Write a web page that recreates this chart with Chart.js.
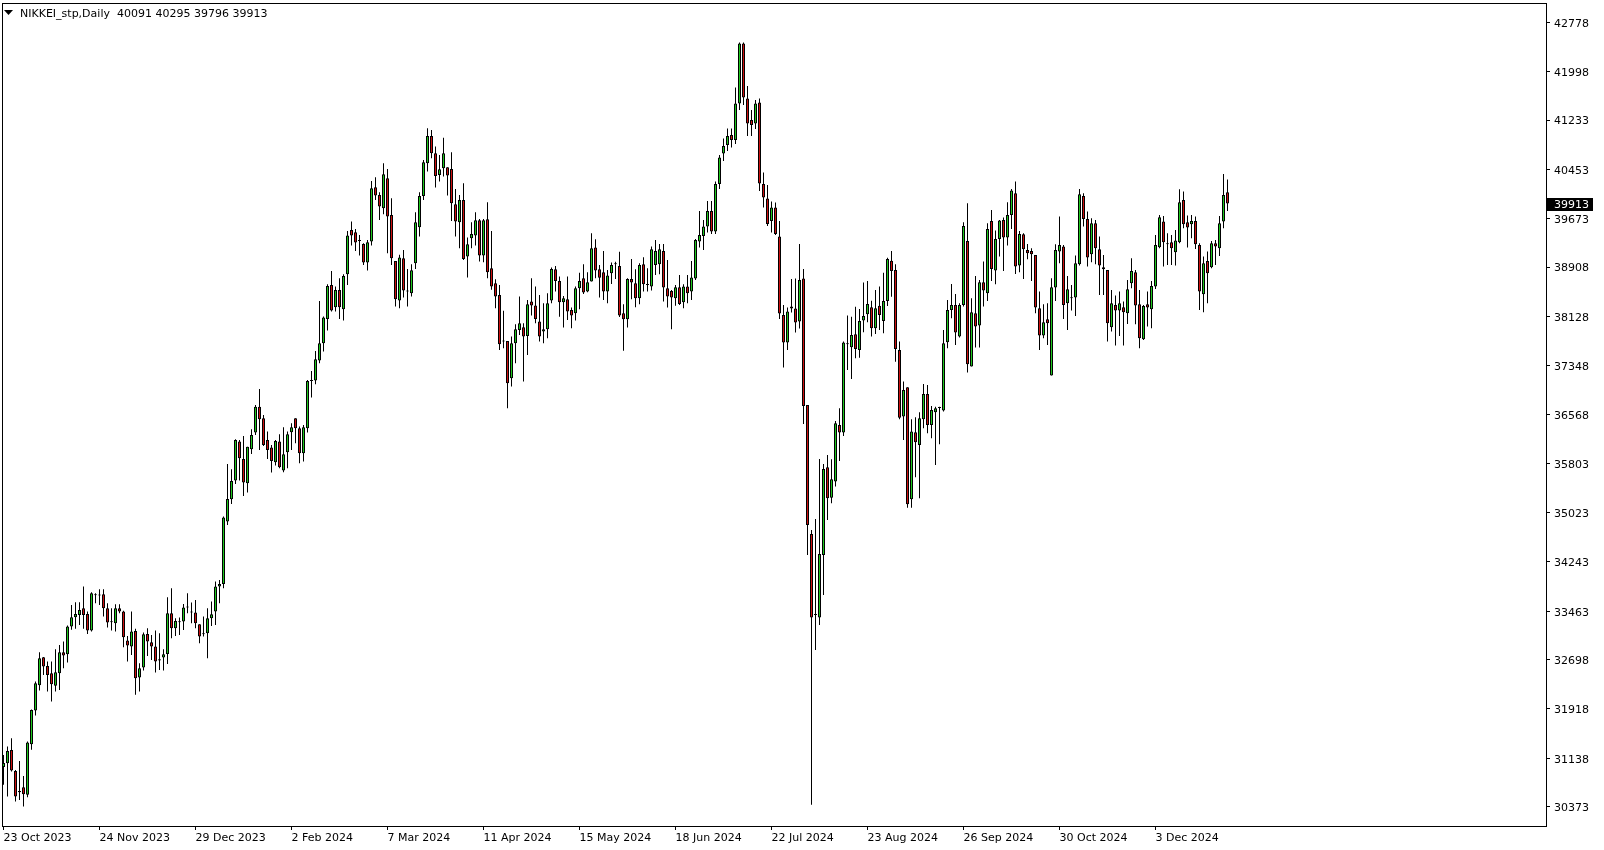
<!DOCTYPE html>
<html><head><meta charset="utf-8">
<script src="https://cdn.jsdelivr.net/npm/chart.js@4.4.1/dist/chart.umd.min.js"></script>
<style>html,body{margin:0;padding:0;background:#fff;overflow:hidden}</style>
</head><body><canvas id="c" width="1604" height="850"></canvas>
<script>
const symbolTitle = "NIKKEI_stp,Daily";
const opens = [31000,31058,31269,30937,30600,30679,30558,31359,31892,32292,32735,32598,32482,32282,32482,32814,32783,33220,33368,33405,33510,33421,33157,33716,33727,33732,33510,33290,33273,33510,33458,33000,32904,33152,32414,32572,33104,32972,32904,32703,32730,32788,33431,33194,33290,33299,33521,33442,33442,33257,33099,33115,33352,33457,33853,33895,34881,35234,35530,36147,35872,35487,36025,36289,36700,36516,36173,36052,35820,36147,35689,35979,36295,36516,36358,35963,36358,37107,37112,37429,37703,38088,38626,38273,38547,38241,38794,39496,39459,39322,39274,38979,39311,40171,40049,39839,40313,39733,39005,38378,39048,38521,38494,38969,39538,40034,40550,40983,40709,40366,40471,40487,40461,39902,39617,39971,39074,39364,39406,39649,39090,39665,38889,38652,38468,37729,37740,37149,37702,37913,37956,37819,38362,38299,38046,37887,37924,38378,38873,38689,38351,38399,38230,38177,38573,38731,38520,38678,39216,38873,38826,38520,38810,38952,38926,38177,38082,38720,38652,38414,38952,38625,38599,38942,38952,39163,38573,38530,38414,38588,38351,38599,38522,38728,39313,39400,39550,39795,39471,40223,40705,40840,40998,40919,41496,42445,41575,41235,41180,41512,40223,39993,39637,39851,39392,38150,37715,38253,38253,38048,38728,36727,34686,33404,33365,34353,35741,35260,35514,36410,36289,37687,37639,37845,37597,38061,38161,38272,37940,38298,38055,38372,39010,38862,37597,36542,37006,35234,36294,36094,36500,36901,36410,36611,36679,36637,37718,38230,38309,37808,38309,39322,37334,38177,37982,38668,38494,39638,38852,39353,39654,39374,39733,40076,38932,39427,39179,39164,39100,38257,37824,38083,37192,38583,39153,39232,38336,38415,38426,38953,40034,39670,39111,39601,39190,38905,38863,37956,38309,38220,38272,38177,38652,38826,38320,37766,38320,38240,38599,39221,39628,39269,39301,39142,39301,39970,39617,39585,39638,39258,38478,39005,38905,39285,39206,39628,40091];
const highs = [31190,31322,31454,30950,31095,30858,31401,31910,32350,32814,32740,32667,32667,32862,32930,32983,33236,33563,33605,33605,33853,33458,33764,33748,33811,33811,33590,33510,33574,33574,33470,33073,33458,33184,32640,33126,33193,33088,33157,33115,32862,33684,33827,33352,33363,33579,33747,33600,33642,33257,33378,33510,33616,33932,33958,34960,35793,35709,36184,36173,36236,36067,36342,36727,36980,36568,36305,36094,36173,36263,36374,36305,36437,36516,36384,36411,37123,37265,37582,38373,38125,38636,38847,38599,38731,38794,39480,39628,39512,39417,39285,39338,40271,40329,40092,40550,40461,39997,39005,39101,39179,38879,38953,39775,40092,40603,41104,41078,40814,40682,40956,40487,40724,40144,40049,40234,39375,39617,39775,39670,39670,39934,39480,38715,38626,38215,37740,37808,38004,38441,38019,38389,38731,38600,38468,38336,38494,38900,38926,38757,38451,38757,38267,38599,38820,38952,38826,39442,39348,38942,39163,38862,38979,38994,39152,38320,38731,39037,38873,38968,39063,38889,39232,39337,39274,39274,39021,38546,38625,38783,38636,38783,39005,39353,39795,39653,39954,39954,40262,40681,40942,41101,41101,41749,42461,42461,41773,41393,41551,41575,40405,40207,39946,39930,39637,38309,38269,38720,38728,39274,38878,36727,34749,34923,35872,35793,35936,35867,36474,36674,37729,38140,38124,38282,38245,38662,38688,38377,38546,38599,38820,39057,39163,38952,37729,37096,37006,36500,36532,36611,37059,37043,36711,36700,36700,37913,38388,38641,38482,38335,39617,39918,38415,38768,38705,38995,39601,39812,39485,39654,39691,39934,40144,40260,39480,39443,39274,39206,39100,38520,38320,38336,38731,39269,39707,39259,38768,38626,39090,40144,40076,39786,39680,39654,39390,39100,38863,38546,38457,38520,38362,38705,39047,38863,38546,38309,38520,38689,39417,39733,39717,39443,39417,39496,40139,40102,39723,39733,39707,39285,39074,39153,39322,39338,39717,40382,40295];
const lows = [30716,30531,30927,30452,30478,30373,30520,31270,31812,32208,32456,32192,32034,32192,32218,32562,32651,33168,33184,33247,33184,33104,33141,33590,33563,33379,33205,33157,33141,33431,32893,32667,32772,32140,32192,32524,32756,32693,32492,32535,32524,32629,33035,33073,33088,33167,33431,33273,33194,32956,33062,32719,33230,33247,33589,33827,34828,35160,35477,35530,35287,35340,35951,36252,36015,36078,35872,35656,35767,35726,35662,35726,36015,36121,35805,35831,36290,36843,37054,37386,37571,37903,38204,38204,38088,38062,38626,39248,39164,39090,38942,38853,39248,39970,39654,39744,39127,38942,38283,38257,38426,38283,38441,38879,39390,39970,40419,40630,40165,40260,40340,40039,39638,39390,39206,39021,38742,39206,39248,38995,38984,38731,38550,38257,37597,37624,36675,37018,37386,37835,37097,37518,38141,38019,37729,37703,37782,38336,38520,38124,37950,38072,37940,38061,38240,38483,38510,38678,38731,38425,38388,38335,38641,38720,38120,37586,37950,38398,38272,38320,38520,38520,38536,38783,38794,38362,38267,37924,38298,38309,38256,38335,38388,38704,39218,39179,39455,39432,39432,40144,40586,40745,40800,40855,41393,41472,40982,40982,41093,40112,39851,39558,39455,39416,38087,37320,37596,38190,37873,37937,36426,34353,30400,32851,33246,33721,34907,35171,35435,35841,36236,37280,37138,37465,37475,37876,38034,37808,37850,37913,37860,38293,38440,37412,36500,36173,35102,35102,35582,35250,36357,36278,36199,35777,36104,36621,37623,38097,37676,37792,38283,37239,37334,37634,37634,38283,38373,38689,38636,39074,38847,39248,39512,38800,38826,38721,39032,38689,38177,37597,37782,37676,37192,38373,38968,38088,37913,38220,38135,38932,39549,38916,38984,38953,38467,38467,37729,37887,37666,37819,37666,38009,38573,38003,37624,37755,37966,37940,38562,39206,38916,38942,38942,38931,39285,39522,39216,39364,39195,38230,38193,38336,38889,38942,39084,39522,39796];
const closes = [31060,31253,30942,30531,30620,30568,31385,31902,32324,32719,32588,32456,32308,32498,32814,32761,33220,33368,33421,33484,33405,33157,33748,33732,33711,33510,33284,33290,33510,33458,33052,32920,33141,32403,32561,33099,32983,32904,32666,32682,32783,33431,33194,33310,33290,33521,33521,33442,33273,33062,33099,33352,33415,33853,33895,34944,35240,35524,36173,35883,35498,36067,36252,36700,36500,36094,36015,35841,36157,35741,35947,36263,36374,36358,35963,36374,37107,37107,37450,37703,38109,38610,38220,38547,38273,38768,39406,39406,39295,39322,38979,39301,40155,40039,39865,40376,39707,39048,38399,39058,38536,38521,38858,39617,40034,40566,40983,40709,40350,40456,40709,40355,39918,39628,39971,39037,39269,39432,39649,39090,39649,38826,38599,38441,37687,37729,37070,37702,37924,38019,37808,38320,38299,38088,37808,37924,38336,38879,38689,38351,38414,38204,38140,38573,38689,38504,38667,39205,38852,38741,38520,38773,38942,38952,38140,38082,38720,38662,38414,38942,38636,38625,39190,39163,39190,38583,38441,38425,38588,38325,38599,38494,38744,39337,39416,39550,39795,39471,40223,40642,40824,40982,40919,41496,42445,41591,41180,41156,41496,40231,40009,39590,39851,39432,38174,37715,38206,38285,38032,38704,36711,34828,33365,33420,34369,35714,35250,35551,36437,36289,37713,37703,37834,37613,38055,38135,38324,37940,38256,38150,38372,39036,38846,37613,36526,36964,35155,36305,36136,36516,36901,36410,36648,36674,36679,37702,38230,38309,37871,38309,39559,37371,38193,37966,38668,38536,39512,38879,39353,39643,39374,39733,40118,38916,39433,39190,39127,39111,38267,37824,38035,38019,38589,39180,39259,38309,38557,38415,38969,40060,39670,39058,39601,39206,38931,38873,38019,38335,38220,38335,38193,38557,38847,38299,37782,38293,38267,38610,39259,39696,39301,39269,39206,39327,39934,39585,39533,39638,39269,38520,38968,38810,39285,39232,39601,40049,39913];
const xTickIndex = [0,24,48,72,96,120,144,168,192,216,240,264,288];
const xTickLabels = ["23 Oct 2023","24 Nov 2023","29 Dec 2023","2 Feb 2024","7 Mar 2024","11 Apr 2024","15 May 2024","18 Jun 2024","22 Jul 2024","23 Aug 2024","26 Sep 2024","30 Oct 2024","3 Dec 2024"];
const yTickValues = [42778,41998,41233,40453,39673,38908,38128,37348,36568,35803,35023,34243,33463,32698,31918,31138,30373];

const FONT = {family: "'DejaVu Sans', sans-serif", size: 11};
const UP = '#1ec81e', DOWN = '#cc1010';
const last = closes.length - 1;

const framePlugin = {
  id: 'frame',
  afterDatasetsDraw(chart) {
    const a = chart.chartArea, ctx = chart.ctx;
    ctx.save();
    ctx.strokeStyle = '#000'; ctx.lineWidth = 1;
    ctx.strokeRect(a.left + 0.5, a.top + 0.5, a.right - a.left, a.bottom - a.top);
    ctx.restore();
  },
  afterDraw(chart) {
    const ctx = chart.ctx;
    ctx.save();
    ctx.fillStyle = '#000';
    ctx.beginPath(); ctx.moveTo(4, 10); ctx.lineTo(13, 10); ctx.lineTo(8.5, 15); ctx.closePath(); ctx.fill();
    ctx.font = "11px 'DejaVu Sans'";
    ctx.textBaseline = 'alphabetic';
    ctx.fillText(symbolTitle + '  ' + [opens[last], highs[last], lows[last], closes[last]].join(' '), 20, 17);
    const y = chart.scales.y.getPixelForValue(closes[last]);
    const a = chart.chartArea;
    ctx.fillRect(a.right + 1, Math.round(y) - 6, 46, 13);
    ctx.fillStyle = '#fff';
    ctx.textBaseline = 'middle';
    ctx.fillText(String(closes[last]), a.right + 8, Math.round(y) + 1.5);
    ctx.restore();
  }
};

new Chart(document.getElementById('c'), {
  type: 'bar',
  data: {
    datasets: [
      {
        label: 'body',
        data: opens.map((o, i) => ({x: i, y: [Math.min(o, closes[i]), Math.max(o, closes[i])]})),
        backgroundColor: (ctx) => {
          const i = ctx.dataIndex;
          if (i === undefined) return UP;
          if (opens[i] === closes[i]) return '#000';
          return closes[i] > opens[i] ? UP : DOWN;
        },
        borderColor: '#000', borderWidth: 1, borderSkipped: false,
        barThickness: 3, grouped: false, inflateAmount: 0, minBarLength: 1, order: 1
      },
      {
        label: 'wick',
        data: opens.map((o, i) => ({x: i, y: [lows[i], highs[i]]})),
        backgroundColor: '#000', borderWidth: 0,
        barThickness: 1, grouped: false, inflateAmount: 0, order: 2
      }
    ]
  },
  options: {
    responsive: false, animation: false, devicePixelRatio: 1,
    layout: {padding: {top: 3, left: 2, right: 0, bottom: 0}, autoPadding: false},
    plugins: {legend: {display: false}, tooltip: {enabled: false}},
    events: [],
    scales: {
      x: {
        type: 'linear', position: 'bottom', min: -0.375, max: 385.625, offset: false,
        grid: {drawOnChartArea: false, drawTicks: true, tickLength: 4, color: '#000', offset: false},
        border: {display: false},
        ticks: {autoSkip: false, maxRotation: 0, minRotation: 0, align: 'start', padding: 2, font: FONT, color: '#000',
          callback: (v) => { const k = xTickIndex.indexOf(v); return k >= 0 ? xTickLabels[k] : ''; }},
        afterBuildTicks: (s) => { s.ticks = xTickIndex.map(v => ({value: v})); },
        afterFit: (s) => { s.height = 24; s.paddingLeft = 0; s.paddingRight = 0; }
      },
      y: {
        type: 'linear', position: 'right', min: 30065, max: 43086, bounds: 'data',
        grid: {drawOnChartArea: false, drawTicks: true, tickLength: 4, color: '#000'},
        border: {display: false},
        ticks: {padding: 4, labelOffset: 1.5, font: FONT, color: '#000', callback: (v) => String(v)},
        afterBuildTicks: (s) => { s.ticks = yTickValues.map(v => ({value: v})); },
        afterFit: (s) => { s.width = 58; s.paddingTop = 0; s.paddingBottom = 0; }
      }
    }
  },
  plugins: [framePlugin]
});
</script>
</body></html>
